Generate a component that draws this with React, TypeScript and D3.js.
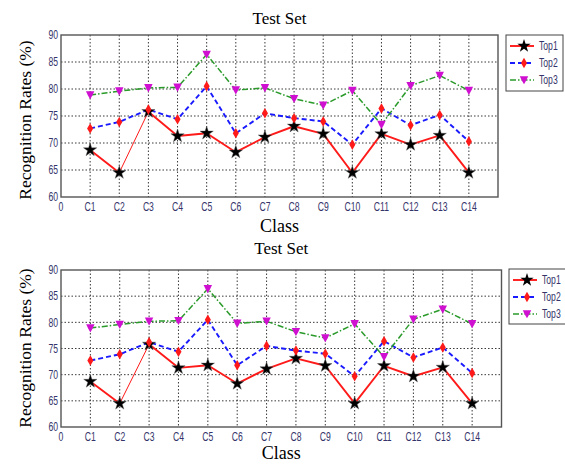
import React, { useEffect } from 'react';
import * as d3 from 'd3';

const classes = ['C1', 'C2', 'C3', 'C4', 'C5', 'C6', 'C7', 'C8', 'C9', 'C10', 'C11', 'C12', 'C13', 'C14'];
const top1 = [68.7, 64.5, 75.8, 71.3, 71.8, 68.3, 71.1, 73.1, 71.7, 64.5, 71.7, 69.7, 71.4, 64.5];
const top2 = [72.7, 73.9, 76.2, 74.4, 80.5, 71.8, 75.5, 74.6, 74.0, 69.7, 76.4, 73.3, 75.2, 70.3];
const top3 = [78.9, 79.6, 80.2, 80.3, 86.4, 79.8, 80.2, 78.2, 77.0, 79.7, 73.4, 80.6, 82.5, 79.7];
const yTicks = [60, 65, 70, 75, 80, 85, 90];
const xTicks = d3.range(0, 16);

const seriesNames = ['Top1', 'Top2', 'Top3'];

const W = 565;
const H = 464;
const serif = "'Liberation Serif', 'Times New Roman', serif";
const sans = "'Liberation Sans', Arial, sans-serif";
const tickColor = '#34346a';

// marker shapes per series
const star = d3.symbol(d3.symbolStar, 55)();
const diamond = d3.symbol(d3.symbolDiamond, 32)();
const tri = 'M-4.2,-3.8L4.2,-3.8L2.2,0.5L0,4.3L-2.2,0.5Z';

const styles = [
  { stroke: '#ff1a1a', width: 1.9, dash: null as string | null, marker: star, mfill: '#000' },
  { stroke: '#1a1aff', width: 1.9, dash: '5,3', marker: diamond, mfill: '#ff1a1a' },
  { stroke: '#2a9a2a', width: 1.5, dash: '6,2,1.5,2', marker: tri, mfill: '#d010d0' },
];

// narrow tick font: squeeze a regular sans horizontally
const Narrow: React.FC<{ x: number; y: number; anchor?: string; size?: number; children: React.ReactNode }> = ({ x, y, anchor = 'middle', size = 12, children }) => (
  <text transform={`translate(${x},${y}) scale(0.72,1)`} dy="0.35em" textAnchor={anchor} fontFamily={sans} fontSize={size} fill={tickColor}>{children}</text>
);

interface PanelProps {
  box: { left: number; right: number; top: number; bottom: number };
  titleY: number;
  classY: number;
  yLabelY: number;
  legend: { x: number; y: number; w: number; h: number };
}

const Panel: React.FC<PanelProps> = ({ box, titleY, classY, yLabelY, legend }) => {
  const x = d3.scaleLinear().domain([0, 15]).range([box.left, box.right]);
  const y = d3.scaleLinear().domain([60, 90]).range([box.bottom, box.top]);
  const all = [top1, top2, top3];
  const line = d3.line<number>().x((_, i) => x(i + 1)).y(d => y(d));
  const cx = (box.left + box.right) / 2;

  return (
    <g>
      <rect x={box.left} y={box.top} width={box.right - box.left} height={box.bottom - box.top} fill="#fff" />
      {xTicks.slice(1, 15).map(t => (
        <line key={'gx' + t} x1={x(t)} x2={x(t)} y1={box.top} y2={box.bottom} stroke="#222" strokeWidth={0.9} strokeDasharray="1.5,2" />
      ))}
      {yTicks.slice(1, 6).map(t => (
        <line key={'gy' + t} x1={box.left} x2={box.right} y1={y(t)} y2={y(t)} stroke="#222" strokeWidth={0.9} strokeDasharray="1.5,2" />
      ))}
      <rect x={box.left} y={box.top} width={box.right - box.left} height={box.bottom - box.top} fill="none" stroke="#555" strokeWidth={1.4} />
      {yTicks.map(t => (
        <Narrow key={'ty' + t} x={box.left - 3} y={y(t)} anchor="end">{t}</Narrow>
      ))}
      <Narrow x={x(0)} y={box.bottom + 10}>0</Narrow>
      {classes.map((c, i) => (
        <Narrow key={c} x={x(i + 1)} y={box.bottom + 10}>{c}</Narrow>
      ))}
      {all.map((vals, si) => {
        const s = styles[si];
        if (si === 0) {
          // Top1: segment C2-C3 is drawn thinner in the original
          return (
            <g key={'l' + si}>
              {d3.pairs(vals.map((v, i) => [i, v] as [number, number])).map(([a, b], k) => (
                <line key={k} x1={x(a[0] + 1)} y1={y(a[1])} x2={x(b[0] + 1)} y2={y(b[1])}
                  stroke={s.stroke} strokeWidth={k === 1 ? 1 : s.width} strokeLinecap="round" />
              ))}
            </g>
          );
        }
        return (
          <path key={'l' + si} d={line(vals) || ''} fill="none" stroke={s.stroke} strokeWidth={s.width}
            strokeDasharray={s.dash || undefined} />
        );
      })}
      {all.map((vals, si) => (
        <g key={'m' + si}>
          {vals.map((v, i) => (
            <path key={i} d={styles[si].marker || ''} transform={`translate(${x(i + 1)},${y(v)})`} fill={styles[si].mfill} stroke={si === 0 ? '#555' : 'none'} strokeWidth={0.4} />
          ))}
        </g>
      ))}
      <text x={cx} y={titleY} textAnchor="middle" fontFamily={serif} fontSize={17}>Test Set</text>
      <text x={cx} y={classY} textAnchor="middle" fontFamily={serif} fontSize={18}>Class</text>
      <text transform={`translate(31,${yLabelY}) rotate(-90)`} textAnchor="middle" fontFamily={serif} fontSize={17.5}>Recognition Rates (%)</text>
      <rect x={legend.x} y={legend.y} width={legend.w} height={legend.h} fill="#fff" stroke="#444" strokeWidth={1} />
      {seriesNames.map((n, i) => {
        const s = styles[i];
        const ly = legend.y + 11 + i * 17;
        return (
          <g key={n}>
            <line x1={legend.x + 4} x2={legend.x + 28} y1={ly} y2={ly} stroke={s.stroke} strokeWidth={s.width} strokeDasharray={s.dash || undefined} />
            <path d={s.marker || ''} transform={`translate(${legend.x + 18},${ly})`} fill={s.mfill} />
            <Narrow x={legend.x + 33} y={ly} anchor="start" size={12}>{n}</Narrow>
          </g>
        );
      })}
    </g>
  );
};

export default function App() {
  useEffect(() => {
    document.body.style.margin = '0';
  }, []);
  return (
    <svg width={W} height={H} style={{ display: 'block', background: '#fff' }}>
      <Panel box={{ left: 61, right: 498, top: 35, bottom: 197 }} titleY={24} classY={232} yLabelY={120}
        legend={{ x: 506, y: 35, w: 57, h: 56 }} />
      <Panel box={{ left: 61, right: 501.5, top: 270, bottom: 427 }} titleY={254} classY={459} yLabelY={348}
        legend={{ x: 509, y: 269, w: 60, h: 55 }} />
    </svg>
  );
}
